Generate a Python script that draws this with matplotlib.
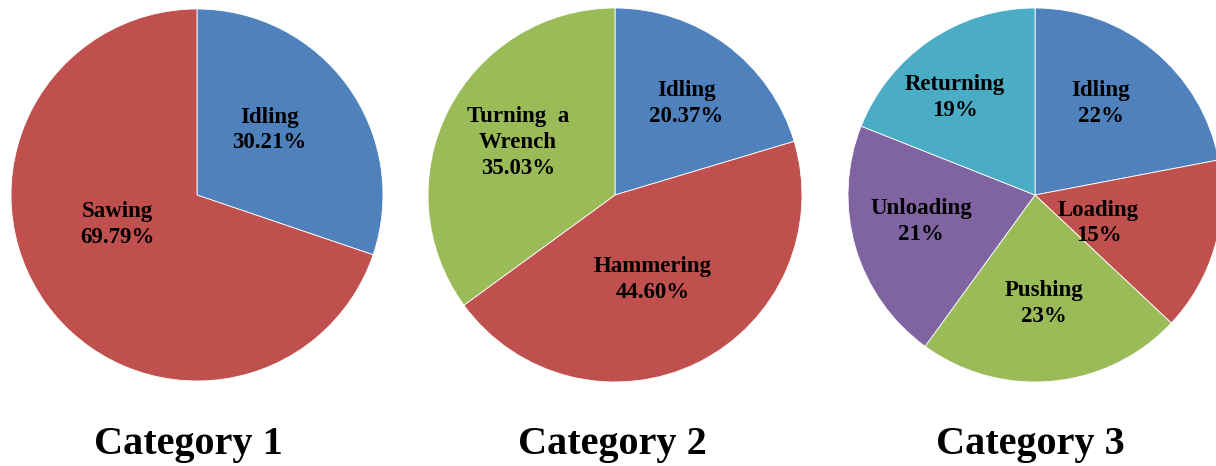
import matplotlib.pyplot as plt

plt.rcParams['font.family'] = ['Liberation Serif', 'DejaVu Serif']

# slice values per category (percent), clockwise from 12 o'clock
cat1_labels = ['Idling', 'Sawing']
cat1_values = [30.21, 69.79]
cat1_text = ['30.21%', '69.79%']

cat2_labels = ['Idling', 'Hammering', 'Turning  a\nWrench']
cat2_values = [20.37, 44.60, 35.03]
cat2_text = ['20.37%', '44.60%', '35.03%']

cat3_labels = ['Idling', 'Loading', 'Pushing', 'Unloading', 'Returning']
cat3_values = [22, 15, 23, 21, 19]
cat3_text = ['22%', '15%', '23%', '21%', '19%']

titles = ['Category 1', 'Category 2', 'Category 3']

blue, red, green, purple, teal = '#4F81BD', '#C0504D', '#9BBB59', '#8064A2', '#4BACC6'
cat1_colors = [blue, red]
cat2_colors = [blue, red, green]
cat3_colors = [blue, red, green, purple, teal]

# label anchor points inside each pie (unit-radius coordinates)
cat1_pos = [(0.39, 0.35), (-0.43, -0.16)]
cat2_pos = [(0.38, 0.49), (0.20, -0.45), (-0.52, 0.28)]
cat3_pos = [(0.35, 0.49), (0.34, -0.15), (0.05, -0.58), (-0.61, -0.14), (-0.43, 0.52)]

W, H = 1216, 466
fig = plt.figure(figsize=(W / 100, H / 100), dpi=100)

pies = [
    (197, 195, 186, cat1_values, cat1_labels, cat1_text, cat1_colors, cat1_pos),
    (615, 195, 187, cat2_values, cat2_labels, cat2_text, cat2_colors, cat2_pos),
    (1035, 195, 187, cat3_values, cat3_labels, cat3_text, cat3_colors, cat3_pos),
]
title_x = [188, 612, 1030]

for i, (cx, cy, r, vals, labs, txt, cols, pos) in enumerate(pies):
    ax = fig.add_axes([(cx - r) / W, 1 - (cy + r) / H, 2 * r / W, 2 * r / H])
    ax.pie(vals, colors=cols, startangle=90, counterclock=False, radius=1,
           wedgeprops=dict(edgecolor='white', linewidth=0.6))
    for lab, t, (px, py) in zip(labs, txt, pos):
        ax.text(px, py, lab + '\n' + t, ha='center', va='center',
                fontsize=16.5, fontweight='bold', linespacing=1.3)
    ax.set_xlim(-1, 1)
    ax.set_ylim(-1, 1)
    ax.set_aspect('equal')
    ax.axis('off')
    fig.text(title_x[i] / W, 1 - 454 / H, titles[i], ha='center', va='baseline',
             fontsize=29, fontweight='bold')

fig.savefig('out.png', dpi=100)
